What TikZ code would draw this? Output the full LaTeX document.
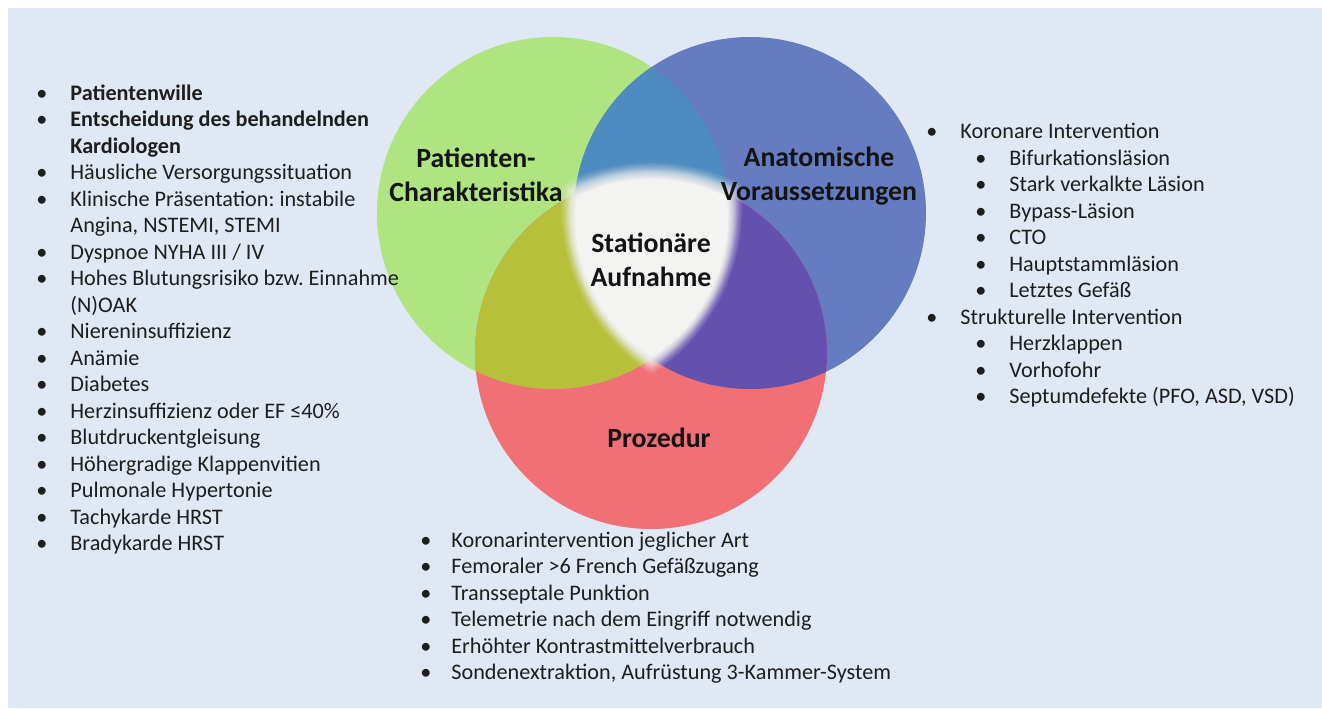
\documentclass[tikz,border=0pt]{standalone}
\usepackage{fontspec}
\setmainfont{Carlito}
\frenchspacing
\definecolor{bgc}{HTML}{DFE8F3}
\definecolor{cG}{HTML}{AFE480}
\definecolor{cB}{HTML}{667CC0}
\definecolor{cR}{HTML}{F07076}
\definecolor{cGB}{HTML}{4E8BC0}
\definecolor{cGR}{HTML}{B6C03A}
\definecolor{cBR}{HTML}{6450AF}
\definecolor{cW}{HTML}{F3F3F1}
\definecolor{txtc}{HTML}{1E1E1E}
\definecolor{lblc}{HTML}{141414}
\begin{document}
\begin{tikzpicture}[x=0.5pt,y=0.5pt,
  txt/.style={anchor=base west, inner sep=0pt, font=\fontsize{11.1pt}{13.25pt}\selectfont, text=txtc},
  btxt/.style={txt, font=\fontsize{11.1pt}{13.25pt}\selectfont\bfseries},
  bul/.style={anchor=base, inner sep=0pt, font=\fontsize{11.1pt}{13.25pt}\selectfont, text=txtc},
  lbl/.style={align=center, inner sep=0pt, font=\fontsize{13.9pt}{17pt}\selectfont\bfseries, text=lblc},
  glow/.style={fill=cW, draw=cW, line width=5pt, line join=round}]
\useasboundingbox (0,0) rectangle (1322,-708);
\fill[bgc] (8,-8) rectangle (1322,-708);
\coordinate (G) at (553,-213);
\coordinate (B) at (750,-213);
\coordinate (R) at (651,-353);
\fill[cG] (G) circle[radius=176];
\fill[cB] (B) circle[radius=176];
\fill[cR] (R) circle[radius=176];
\begin{scope}\clip (G) circle[radius=176]; \fill[cGB] (B) circle[radius=176];\end{scope}
\begin{scope}\clip (G) circle[radius=176]; \fill[cGR] (R) circle[radius=176];\end{scope}
\begin{scope}\clip (B) circle[radius=176]; \fill[cBR] (R) circle[radius=176];\end{scope}
% soft white centre (triple overlap), blurred edge with a linear ramp
\foreach \i in {1,...,20}{
  \pgfmathsetmacro\sc{1.11-0.01*(\i-1)}
  \pgfmathsetmacro\op{1/(21-\i)}
  \begin{scope}[shift={(651,-265)}, scale=\sc, shift={(-651,265)}]
  \path[glow, opacity=\op] (575,-194.3) arc[start angle=115.6,end angle=64.0,radius=176]
     arc[start angle=5.9,end angle=-56.0,radius=176]
     arc[start angle=236.0,end angle=173.9,radius=176] -- cycle;
  \end{scope}}
% circle labels
\node[lbl] (lp) at (476,-175) {Patienten-\\Charakteristika};
\node[lbl] (la) at (819,-176) {Anatomische\\Voraussetzungen};
\node[lbl] (ls) at (651,-260) {Stationäre\\Aufnahme};
\node[lbl] (lpr) at (659,-438) {Prozedur};
% left list
\node[bul] (lb1) at (42,-100) {•};  \node[btxt] (lt1) at (70,-100) {Patientenwille};
\node[bul] (lb2) at (42,-126.5) {•}; \node[btxt] (lt2) at (70,-126.5) {Entscheidung des behandelnden};
\node[btxt] (lt3) at (70,-153) {Kardiologen};
\node[bul] (lb4) at (42,-179.5) {•}; \node[txt] (lt4) at (70,-179.5) {Häusliche Versorgungssituation};
\node[bul] (lb5) at (42,-206) {•}; \node[txt] (lt5) at (70,-206) {Klinische Präsentation: instabile};
\node[txt] (lt6) at (70,-232.5) {Angina, NSTEMI, STEMI};
\node[bul] (lb7) at (42,-259) {•}; \node[txt] (lt7) at (70,-259) {Dyspnoe NYHA III / IV};
\node[bul] (lb8) at (42,-285.5) {•}; \node[txt] (lt8) at (70,-285.5) {Hohes Blutungsrisiko bzw. Einnahme};
\node[txt] (lt9) at (70,-312) {(N)OAK};
\node[bul] (lb10) at (42,-338.5) {•}; \node[txt] (lt10) at (70,-338.5) {Niereninsuffizienz};
\node[bul] (lb11) at (42,-365) {•}; \node[txt] (lt11) at (70,-365) {Anämie};
\node[bul] (lb12) at (42,-391.5) {•}; \node[txt] (lt12) at (70,-391.5) {Diabetes};
\node[bul] (lb13) at (42,-418) {•}; \node[txt] (lt13) at (70,-418) {Herzinsuffizienz oder EF ≤40\%};
\node[bul] (lb14) at (42,-444.5) {•}; \node[txt] (lt14) at (70,-444.5) {Blutdruckentgleisung};
\node[bul] (lb15) at (42,-471) {•}; \node[txt] (lt15) at (70,-471) {Höhergradige Klappenvitien};
\node[bul] (lb16) at (42,-497.5) {•}; \node[txt] (lt16) at (70,-497.5) {Pulmonale Hypertonie};
\node[bul] (lb17) at (42,-524) {•}; \node[txt] (lt17) at (70,-524) {Tachykarde HRST};
\node[bul] (lb18) at (42,-550.5) {•}; \node[txt] (lt18) at (70,-550.5) {Bradykarde HRST};
% right list
\node[bul] (rb1) at (932,-138.5) {•}; \node[txt] (rt1) at (960,-138.5) {Koronare Intervention};
\node[bul] (rb2) at (981,-165) {•}; \node[txt] (rt2) at (1009,-165) {Bifurkationsläsion};
\node[bul] (rb3) at (981,-191.5) {•}; \node[txt] (rt3) at (1009,-191.5) {Stark verkalkte Läsion};
\node[bul] (rb4) at (981,-218) {•}; \node[txt] (rt4) at (1009,-218) {Bypass-Läsion};
\node[bul] (rb5) at (981,-244.5) {•}; \node[txt] (rt5) at (1009,-244.5) {CTO};
\node[bul] (rb6) at (981,-271) {•}; \node[txt] (rt6) at (1009,-271) {Hauptstammläsion};
\node[bul] (rb7) at (981,-297.5) {•}; \node[txt] (rt7) at (1009,-297.5) {Letztes Gefäß};
\node[bul] (rb8) at (932,-324) {•}; \node[txt] (rt8) at (960,-324) {Strukturelle Intervention};
\node[bul] (rb9) at (981,-350.5) {•}; \node[txt] (rt9) at (1009,-350.5) {Herzklappen};
\node[bul] (rb10) at (981,-377) {•}; \node[txt] (rt10) at (1009,-377) {Vorhofohr};
\node[bul] (rb11) at (981,-403.5) {•}; \node[txt] (rt11) at (1009,-403.5) {Septumdefekte (PFO, ASD, VSD)};
% bottom list
\node[bul] (bb1) at (426,-547) {•}; \node[txt] (bt1) at (451,-547) {Koronarintervention jeglicher Art};
\node[bul] (bb2) at (426,-573.5) {•}; \node[txt] (bt2) at (451,-573.5) {Femoraler >6 French Gefäßzugang};
\node[bul] (bb3) at (426,-600) {•}; \node[txt] (bt3) at (451,-600) {Transseptale Punktion};
\node[bul] (bb4) at (426,-626.5) {•}; \node[txt] (bt4) at (451,-626.5) {Telemetrie nach dem Eingriff notwendig};
\node[bul] (bb5) at (426,-653) {•}; \node[txt] (bt5) at (451,-653) {Erhöhter Kontrastmittelverbrauch};
\node[bul] (bb6) at (426,-679.5) {•}; \node[txt] (bt6) at (451,-679.5) {Sondenextraktion, Aufrüstung 3-Kammer-System};
\end{tikzpicture}
\end{document}
